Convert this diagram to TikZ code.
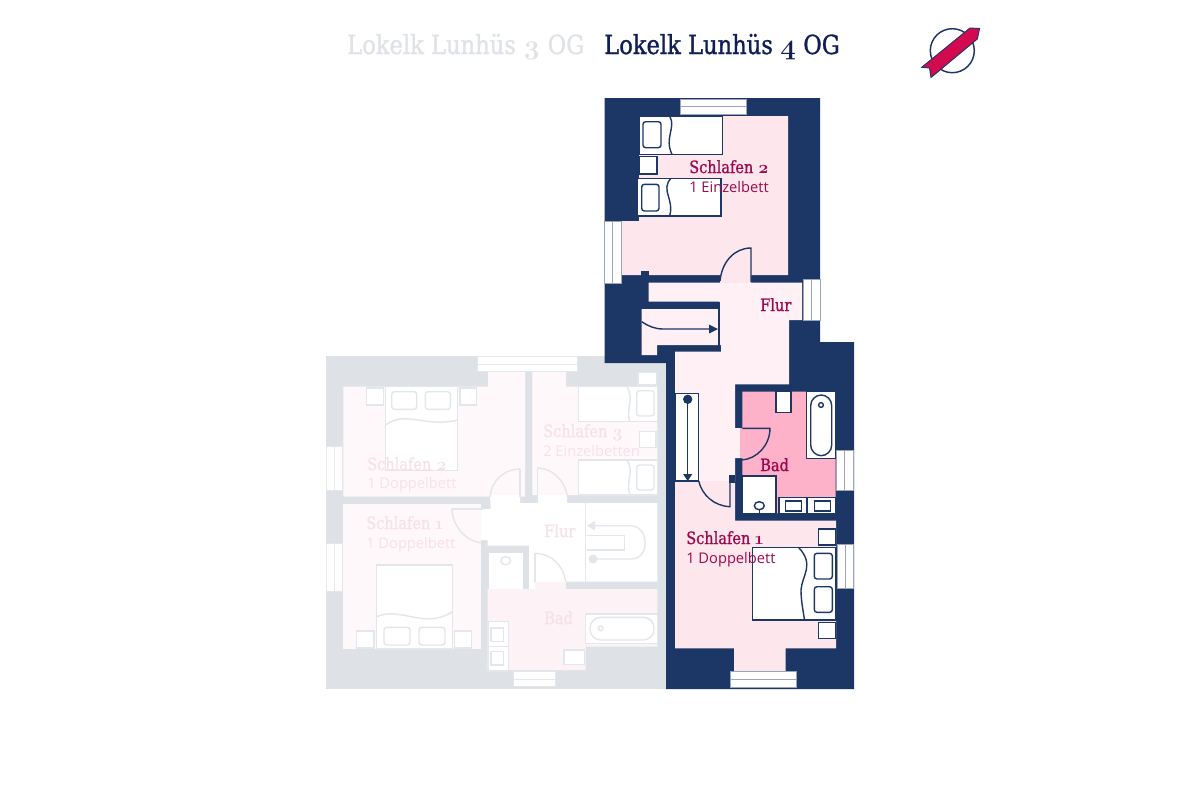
\documentclass[tikz,border=0pt]{standalone}
\usepackage{fontspec}
\setmainfont{Liberation Serif}
\newfontfamily\lblfont{Open Sans}
\newfontfamily\hdfont{DejaVu Serif}[FontFace={c}{n}{DejaVu Serif Condensed},Scale=0.88,FakeStretch=0.86,FakeBold=1.1]
\newfontfamily\numfont{Latin Modern Roman}[Numbers=OldStyle,BoldFont=Latin Modern Roman/B,Scale=0.92]
\definecolor{navy}{HTML}{1C3765}
\definecolor{titlenavy}{HTML}{0F1F55}
\definecolor{titlegray}{HTML}{DFE2E7}
\definecolor{ghostwall}{HTML}{DEE2E7}
\definecolor{ghostline}{HTML}{E3E6EA}
\definecolor{ghostroom}{HTML}{FEF8FA}
\definecolor{ghostbad}{HTML}{FDF2F5}
\definecolor{ghosttext}{HTML}{F7E1E8}
\definecolor{roompink}{HTML}{FDE6EC}
\definecolor{flurpink}{HTML}{FEF0F4}
\definecolor{badpink}{HTML}{FEB2CA}
\definecolor{labelred}{HTML}{9C0A4E}
\definecolor{ribbon}{HTML}{D40A50}
\tikzset{
  nl/.style={draw=navy,line width=1.05pt},
  nw/.style={nl,fill=white},
  gl/.style={draw=ghostline,line width=1.05pt},
  gw/.style={gl,fill=white},
  win/.style={fill=white,draw=navy!45,line width=0.6pt},
  gwin/.style={fill=white,draw=ghostline,line width=0.6pt},
  pil/.style={rounded corners=2pt},
  hd/.style={font=\hdfont\fontsize{22.4}{25}\selectfont,anchor=base west,inner sep=0pt},
  rm/.style={font=\hdfont\fontsize{14.4}{16}\selectfont,anchor=base west,inner sep=0pt},
  sub/.style={font=\lblfont\fontsize{11}{13}\selectfont,anchor=base west,inner sep=0pt},
  tip/.style={fill=navy,draw=none},
}
\begin{document}
\begin{tikzpicture}[x=0.75pt,y=-0.75pt]
\useasboundingbox (0,0) rectangle (1200,800);
\fill[white] (0,0) rectangle (1200,800);

% ---------- titles
\node[hd,text=titlegray] (t3) at (347,54) {Lokelk Lunhüs {\numfont\bfseries 3} OG};
\node[hd,text=titlenavy] (t4) at (604,54) {Lokelk Lunhüs {\numfont\bfseries 4} OG};

% ---------- logo
\draw[navy,line width=1.1pt,fill=white] (952.3,50.7) circle (22);
\draw[navy,line width=0.7pt,fill=ribbon] (970,28) -- (979.6,28.5) -- (977.3,39) -- (931,77.5) -- (929.5,68) -- (921.7,67.3) -- cycle;

% ---------- ghost floor (3 OG)
\fill[ghostwall] (326,356) rectangle (666,689);
% rooms
\fill[ghostroom] (343.3,386.7) -- (488,386.7) -- (488,371.7) -- (525,371.7) -- (525,496.7) -- (343.3,496.7) -- cycle;
\fill[ghostroom] (532.3,371.7) -- (566,371.7) -- (566,386.7) -- (657.3,386.7) -- (657.3,495) -- (532.3,495) -- cycle;
\fill[ghostroom] (343.3,504) rectangle (481,649);
\fill[white] (490,495) -- (520,495) -- (520,503) -- (538,503) -- (538,495) -- (567,495) -- (567,503) -- (657.3,503) -- (657.3,581.7) -- (565.7,581.7) -- (565.7,589) -- (535,589) -- (529,589) -- (529,545.7) -- (487.7,545.7) -- (487.7,540) -- (481,540) -- (481,509) -- (490.7,509) -- cycle;
\fill[white] (489,553.3) rectangle (522.7,589);
\fill[ghostbad] (487.7,589) -- (657.3,589) -- (657.3,646.7) -- (585.7,646.7) -- (585.7,670) -- (487.7,670) -- cycle;
\fill[ghostbad] (535,581.7) rectangle (565.7,589);
\fill[white] (535,553) -- (535,581.7) -- (565.7,581.7) .. controls (563,565) and (552,554) .. (535,553) -- cycle;
% windows
\path[gwin] (477.7,356.7) rectangle (577.7,371.7);
\draw[gwin] (477.7,364) -- (577.7,364);
\path[gwin] (326.7,446.7) rectangle (342.3,490);
\draw[gwin] (334,446.7) -- (334,490);
\path[gwin] (326.7,543.3) rectangle (342.3,591.7);
\draw[gwin] (334,543.3) -- (334,591.7);
\path[gwin] (513,671.7) rectangle (555,686.7);
\draw[gwin] (513,679) -- (555,679);
% Schlafen 2 furniture
\path[gw] (385.7,386.7) rectangle (457.7,470.7);
\path[gw,pil] (391.7,391.7) rectangle (416.7,409.3);
\path[gw,pil] (425.3,391.7) rectangle (450.3,409.3);
\draw[gl] (385.7,425) .. controls (405,410) and (425,428) .. (457.7,420);
\path[gw] (366.7,388) rectangle (383.3,405);
\path[gw] (460,388) rectangle (476.7,405);
% Schlafen 3 furniture
\path[gw] (578.3,386.7) rectangle (657.3,421.7);
\path[gw,pil] (636.7,390.7) rectangle (654,416);
\draw[gl] (627,386.7) .. controls (635,400) and (625,410) .. (630,421.7);
\path[gw] (639.3,431.7) rectangle (656,447.7);
\path[gw] (578.3,460) rectangle (657.3,495);
\path[gw,pil] (636.7,465) rectangle (654,490);
\draw[gl] (627,460) .. controls (635,472) and (625,482) .. (630,495);
\path[gw] (638,372.7) rectangle (656.7,385);
% Schlafen 1 furniture
\path[gw] (376.7,565) rectangle (452.3,649);
\path[gw,pil] (384,627.3) rectangle (410,645);
\path[gw,pil] (419,627.3) rectangle (445,645);
\draw[gl] (376.7,616.7) .. controls (400,606) and (425,630) .. (452.3,611.7);
\path[gw] (356.7,631) rectangle (374,648);
\path[gw] (454.3,631) rectangle (471.7,648);
% ghost doors
\draw[gl] (520,469) .. controls (503,469) and (491,482) .. (490,497);
\draw[gl] (520,469) -- (520,497);
\draw[gl] (537.3,468) .. controls (553,468) and (566,482) .. (567.3,497);
\draw[gl] (537.3,468) -- (537.3,497);
\draw[gl] (451.7,509) -- (483,509);
\draw[gl] (451.7,509) .. controls (453,526) and (465,541) .. (481,542.7);
\draw[gl] (535,553.3) -- (535,581.7);
\draw[gl] (535,553.3) .. controls (552,554) and (563,565) .. (565.7,581.7);
% ghost stairs
\draw[gl] (585.7,503) -- (585.7,581.7);
\draw[gl] (594,525.7) -- (630,525.7) .. controls (650,525.7) and (650,559) .. (631.7,559) -- (593,559);
\fill[ghostline] (587,525.7) -- (595,521) -- (595,530.4) -- cycle;
\draw[gl] (587,535.7) -- (624.3,535.7) -- (624.3,550) -- (587,550);
\fill[ghostline] (593,559) circle (4.5);
% closet
\draw[gl,fill=white] (505.7,560.7) ellipse (5 and 4);
% ghost bath
\path[gw] (585.7,614) rectangle (657.3,643.3);
\path[gw,rounded corners=8pt] (590,617.3) rectangle (654,640);
\draw[gl,fill=white] (600.7,628.3) circle (2.3);
\path[gw] (564,650) rectangle (584.3,664.3);
\path[gw] (488.3,621.7) rectangle (508.3,646.7);
\path[gw] (488.3,646.7) rectangle (508.3,671);
\draw[gl] (491,628) rectangle (503.3,641.7);
\draw[gl] (491,651.7) rectangle (503.3,665);
% ghost labels
\node[rm,text=ghosttext] (g1) at (367,470) {Schlafen {\numfont\bfseries 2}};
\node[sub,text=ghosttext] (g2) at (367,488) {1 Doppelbett};
\node[rm,text=ghosttext] (g3) at (543,437) {Schlafen {\numfont\bfseries 3}};
\node[sub,text=ghosttext] (g4) at (543,456) {2 Einzelbetten};
\node[rm,text=ghosttext] (g5) at (366,529) {Schlafen {\numfont\bfseries 1}};
\node[sub,text=ghosttext] (g6) at (366,548) {1 Doppelbett};
\node[rm,text=ghosttext] (g7) at (544,537) {Flur};
\node[rm,text=ghosttext] (g8) at (544,624) {Bad};

% ---------- active floor (4 OG): solid walls
\fill[navy] (604.5,98) -- (820,98) -- (820,342) -- (854,342) -- (854,689) -- (666,689) -- (666,363) -- (604.5,363) -- cycle;
% Schlafen 2
\fill[roompink] (639,116) -- (788,116) -- (788,275) -- (751,275) -- (751,283) -- (720,283) -- (720,275) -- (622,275) -- (622,221) -- (639,221) -- cycle;
% Flur
\fill[flurpink] (648.7,282.5) -- (802,282.5) -- (802,320) -- (789,320) -- (789,384.3) -- (735,384.3) -- (735,428) -- (740,428) -- (740,458) -- (735,458) -- (735,482) -- (675,482) -- (675,351.7) -- (721,351.7) -- (721,345) -- (719,345) -- (719,301.7) -- (648.7,301.7) -- cycle;
\fill[flurpink] (641.7,309) -- (719,309) -- (719,345) -- (657,345) -- (657,355) -- (641.7,355) -- cycle;
\fill[roompink] (720,275.5) rectangle (751,282.5);
\fill[navy] (641,271) rectangle (648.7,276);
% Schlafen 1
\fill[roompink] (675,481) -- (729,481) -- (729,483) -- (735,483) -- (735,520.7) -- (836,520.7) -- (836,648.3) -- (785.7,648.3) -- (785.7,671) -- (734,671) -- (734,648.3) -- (675,648.3) -- cycle;
% Bad
\fill[badpink] (742.3,391.7) -- (835.7,391.7) -- (835.7,513.3) -- (742.3,513.3) -- (742.3,458) -- (740,458) -- (740,428) -- (742.3,428) -- cycle;
\fill[navy] (729,475) rectangle (735,483);
% windows
\path[win] (680,99) rectangle (746,114.5);
\draw[win] (680,106.7) -- (746,106.7);
\path[win] (604.5,221) rectangle (621,283);
\draw[win] (612.7,221) -- (612.7,283);
\path[win] (803,279) rectangle (820,320);
\draw[win] (811.5,279) -- (811.5,320);
\path[win] (836.7,450) rectangle (853.5,490);
\draw[win] (844.5,450) -- (844.5,490);
\path[win] (837.3,544) rectangle (853.5,588.3);
\draw[win] (845,544) -- (845,588.3);
\path[win] (730,671.7) rectangle (796,687.7);
\draw[win] (730,679.3) -- (796,679.3);
% beds Schlafen 2
\path[nw] (639.5,116.7) rectangle (722.7,154.3);
\path[nw,pil] (643,121.7) rectangle (661,147.7);
\draw[nl] (670,116.7) .. controls (676,128) and (664,138) .. (672,154.3);
\path[nw] (639.5,156.7) rectangle (657,174);
\path[nw] (637.7,178.3) rectangle (721,216);
\path[nw,pil] (641.7,184.3) rectangle (659,211);
\draw[nl] (671,178.3) .. controls (660,190) and (675,200) .. (669.5,216);
% door Schlafen 2
\draw[nl] (751,282) -- (751,248) .. controls (735,248) and (722,261) .. (720,281);
% stairs
\draw[nl] (719,301.7) -- (719,351);
\draw[nl] (641.7,321.7) .. controls (648,326) and (655,329) .. (663,329) -- (712,329);
\fill[tip] (718,329) -- (709,324.5) -- (709,333.5) -- cycle;
% lift
\path[nw] (675,393.3) rectangle (698.7,481);
\draw[nl] (687.7,399) -- (687.7,474);
\fill[tip] (687.7,399.3) circle (4.7);
\fill[tip] (687.7,481) -- (683,474) -- (692.4,474) -- cycle;
% door Schlafen 1
\draw[nl] (698.7,481) .. controls (702,495) and (714,506) .. (730,506.7) -- (730,483);
% Bad fittings
\path[nw] (776,391.7) rectangle (791,412.3);
\path[nw] (806.7,391.7) rectangle (835.7,458.3);
\path[nw,rounded corners=8pt] (810.7,395) rectangle (831.7,455.7);
\draw[nl] (821,405) circle (2.4);
\draw[nl] (742.3,428.3) -- (770,428.3) .. controls (770,445) and (757,459) .. (741.7,460);
\path[nw] (742.3,476) rectangle (776,513.3);
\draw[nw] (759.3,505.7) ellipse (5 and 4);
\draw[nl] (759.3,509.7) -- (759.3,513.3);
\path[nw] (779,497.3) rectangle (806.7,513.3);
\path[nw] (807.3,497.3) rectangle (836,513.3);
\draw[nl] (785.3,501) rectangle (801.7,511);
\draw[nl] (814.3,501) rectangle (830.7,511);
% Schlafen 1 furniture
\path[nw] (818.3,529) rectangle (835.3,545);
\path[nw] (752.3,547.3) rectangle (836,620);
\path[nw,pil] (814.3,553.3) rectangle (832.3,579);
\path[nw,pil] (814.3,586.7) rectangle (832.3,612.3);
\draw[nl] (798.5,547.3) .. controls (815,565) and (802,575) .. (801,590) .. controls (801,600) and (803,610) .. (804.5,620);
\path[nw] (818.3,622.3) rectangle (835.3,638.3);
% labels
\node[rm,text=labelred] (s2) at (689,173) {Schlafen {\numfont\bfseries 2}};
\node[sub,text=labelred] (s2b) at (689,192) {1 Einzelbett};
\node[rm,text=labelred] (fl) at (760,311) {Flur};
\node[rm,text=labelred] (ba) at (760,471) {Bad};
\node[rm,text=labelred] (s1) at (686,544) {Schlafen {\numfont\bfseries 1}};
\node[sub,text=labelred] (s1b) at (686,563) {1 Doppelbett};
\end{tikzpicture}
\end{document}
